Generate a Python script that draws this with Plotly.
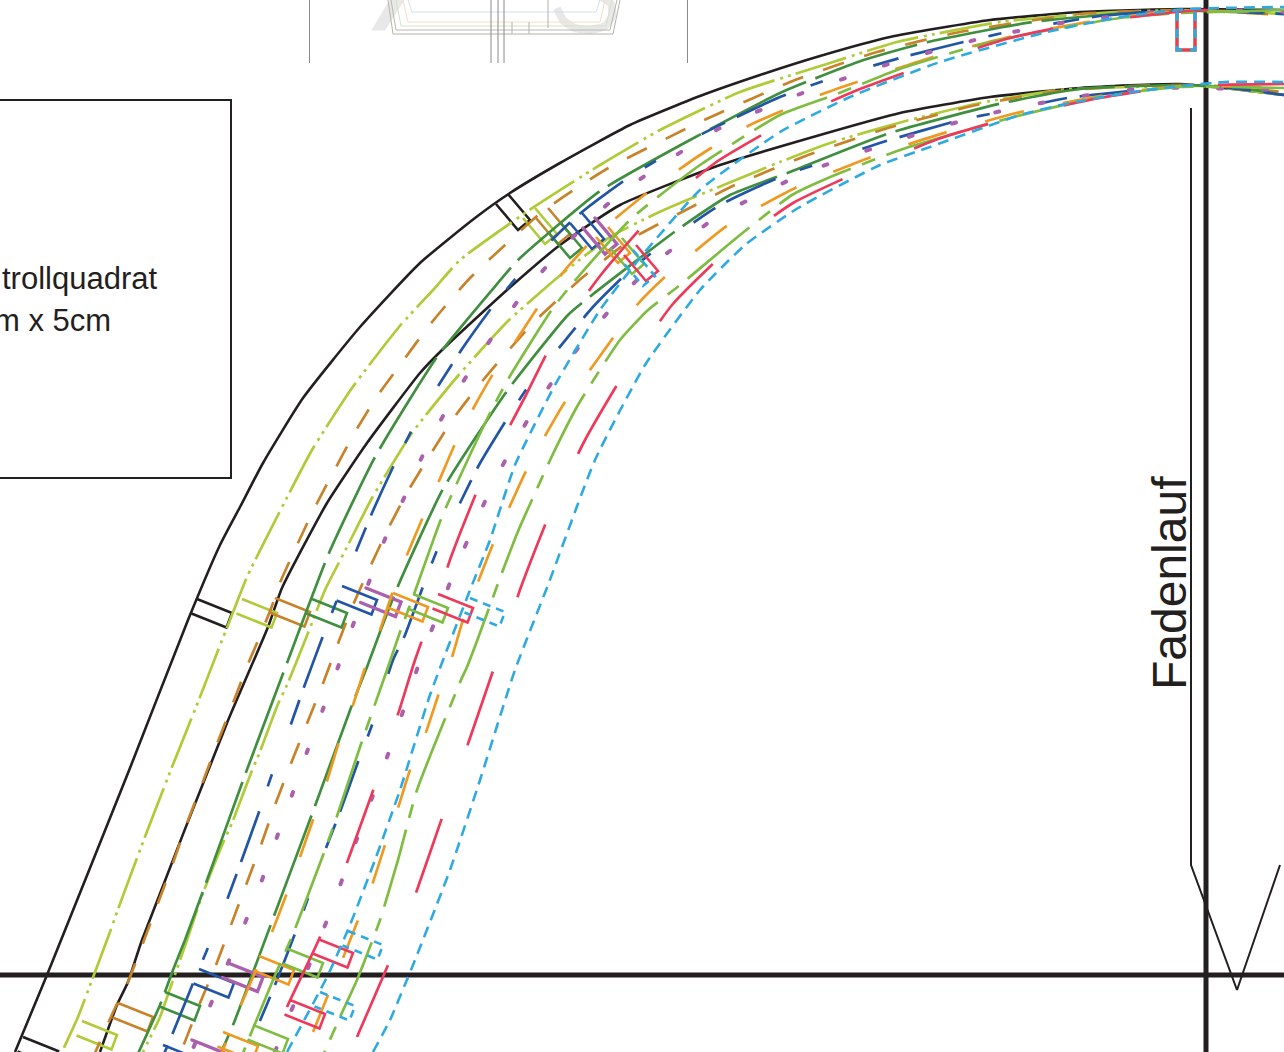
import plotly.graph_objects as go

BLACK = "#231f20"; LIME = "#afcb37"; OCHRE = "#c8832a"; GREEN = "#3f8f3f"; BLUE = "#2355a5"
PURPLE = "#ab60ad"; ORANGE = "#ee9a22"; LEAF = "#7fbd42"; RED = "#ee3a5a"; SKY = "#2eaae1"

# ---- outer seam-line set
O_BLACK = [(15,1052),(47,975),(130,768),(188,620),(220,545),(240,507),(263,463),(303,398),(360,327),(420,263),(475,218),(510,193),(560,163),(630,125),(700,96),(760,75),(820,56),(890,37),(990,20),(1080,12),(1180,9),(1284,10)]
O_LIME = [(33,1116),(62,1052),(78,1017),(92,980),(110,932),(117,912),(143,842),(170,772),(198,702),(217,653),(230,620),(247,577),(278,515),(312,450),(352,388),(399,327),(433,290),(460,260),(528,211),(600,165),(660,130),(740,92),(830,63),(897,42),(1000,22),(1100,13),(1180,10),(1284,14)]
O_OCHRE = [(91,1062),(115,1008),(128,982),(143,943),(158,903),(173,863),(187,823),(202,784),(217,744),(233,703),(248,664),(257,643),(272,606),(279,585),(297,545),(315,507),(335,469),(355,432),(378,395),(403,361),(428,327),(442,310),(470,278),(542,212),(605,170),(700,122),(795,80),(877,52),(960,32),(1080,14),(1180,10),(1284,15)]
O_GREEN = [(117,1099),(160,1005),(173,970),(185,940),(206,883),(245,775),(287,663),(329,553),(375,457),(437,357),(492,290),(518,260),(600,191),(690,140),(780,93),(858,62),(928,42),(1033,22),(1130,13),(1200,11),(1284,14)]
O_BLUE = [(100,1204),(172,1035),(196,976),(207,950),(227,900),(241,862),(259,812),(272,774),(291,724),(304,687),(323,636),(340,592),(357,549),(372,513),(394,465),(413,428),(440,383),(462,349),(493,306),(530,262),(577,216),(628,178),(700,135),(780,97),(832,78),(907,56),(972,40),(1012,31),(1100,16),(1180,10),(1284,14)]
O_PURPLE = [(177,1089),(210,1006),(228,963),(245,923),(262,880),(277,837),(292,795),(307,752),(323,709),(338,667),(353,625),(369,582),(385,539),(404,498),(422,457),(443,416),(466,377),(491,339),(517,302),(546,267),(577,233),(609,203),(646,175),(720,128),(805,92),(892,63),(979,39),(1068,22),(1180,10),(1284,12)]
O_ORANGE = [(211,1080),(241,1005),(256,970),(272,932),(287,893),(300,857),(314,817),(327,781),(339,742),(353,705),(365,668),(380,630),(393,591),(407,555),(423,517),(439,481),(455,444),(473,409),(493,374),(515,342),(538,307),(565,270),(601,231),(648,192),(700,155),(750,125),(820,95),(860,81),(936,56),(1013,36),(1100,20),(1180,11),(1284,12)]
O_LEAF = [(205,1146),(273,980),(293,934),(322,858),(335,822),(360,747),(387,670),(400,632),(413,597),(441,519),(457,483),(491,411),(510,376),(553,308),(578,277),(632,218),(700,165),(780,115),(837,94),(897,70),(975,46),(1033,33),(1120,18),(1180,13),(1284,10)]
O_RED = [(227,1151),(287,1007),(320,937),(348,860),(375,785),(400,708),(415,660),(440,590),(451,557),(481,482),(526,395),(553,342),(600,276),(653,215),(715,163),(780,125),(855,91),(932,63),(1010,38),(1077,24),(1150,15),(1200,10),(1284,14)]
O_SKY = [(287,1052),(328,975),(350,925),(375,860),(400,790),(430,695),(470,590),(490,540),(515,465),(555,385),(600,310),(640,258),(700,190),(780,132),(850,97),(940,62),(1047,32),(1120,17),(1190,9),(1284,7)]

# ---- inner seam-line set
I_BLACK = [(100,1052),(117,1005),(128,982),(142,940),(227,723),(268,627),(282,588),(327,503),(367,443),(420,373),(442,350),(507,290),(560,245),(620,205),(720,165),(820,135),(900,113),(990,97),(1080,88),(1180,84),(1284,95)]
I_LIME = [(120,1097),(143,1052),(160,1017),(172,983),(187,940),(203,893),(223,843),(232,823),(251,773),(259,754),(278,704),(287,685),(308,633),(325,590),(347,547),(372,498),(412,433),(457,377),(507,322),(543,290),(563,273),(610,237),(653,215),(680,203),(780,162),(830,143),(902,122),(980,103),(1060,90),(1130,87),(1200,86),(1284,95)]
I_OCHRE = [(166,1084),(184,1044),(200,1003),(216,965),(231,925),(246,885),(261,845),(275,805),(290,766),(306,726),(322,686),(337,646),(353,605),(370,567),(388,529),(408,491),(430,455),(453,419),(479,385),(507,352),(535,321),(552,305),(583,277),(633,238),(680,213),(735,185),(808,155),(888,128),(972,106),(1050,92),(1130,86),(1200,85),(1284,92)]
I_GREEN = [(185,1132),(233,1025),(274,916),(315,806),(352,705),(367,667),(380,632),(398,586),(443,489),(507,391),(568,315),(592,295),(677,230),(730,195),(790,172),(890,133),(1003,103),(1080,89),(1180,85),(1240,88),(1284,95)]
I_BLUE = [(200,1154),(259,1023),(275,985),(299,923),(326,848),(340,812),(358,762),(372,725),(393,660),(405,635),(428,573),(438,548),(461,501),(479,465),(507,419),(528,387),(592,308),(625,275),(655,250),(720,205),(780,177),(820,163),(883,142),(960,120),(1000,112),(1067,98),(1140,90),(1200,85),(1284,95)]
I_PURPLE = [(275,1052),(282,1033),(299,992),(315,950),(332,908),(347,866),(395,735),(423,652),(440,609),(456,567),(474,526),(493,484),(514,444),(536,406),(562,368),(620,298),(652,265),(720,215),(807,172),(892,142),(979,116),(1068,98),(1150,88),(1284,90)]
I_ORANGE = [(283,1106),(313,1032),(328,995),(343,958),(358,920),(372,885),(385,845),(398,808),(410,770),(425,735),(440,690),(452,657),(463,620),(478,582),(493,544),(509,508),(526,471),(545,436),(565,402),(590,370),(637,305),(665,277),(728,225),(797,187),(871,157),(947,132),(1025,111),(1100,96),(1180,86),(1284,88)]
I_LEAF = [(293,1124),(340,1017),(357,980),(380,920),(398,860),(417,790),(461,680),(467,667),(477,641),(503,570),(519,529),(552,456),(578,405),(620,340),(648,310),(680,285),(740,235),(792,195),(828,178),(903,149),(1010,118),(1100,97),(1180,87),(1284,88)]
I_RED = [(297,1181),(357,1037),(388,965),(417,890),(443,815),(470,738),(495,665),(521,587),(550,513),(585,440),(625,372),(672,305),(728,250),(793,203),(865,169),(938,139),(1013,117),(1100,98),(1180,86),(1284,84)]
I_SKY = [(373,1052),(390,1020),(413,965),(450,870),(480,780),(515,670),(548,585),(595,460),(645,365),(700,290),(745,245),(798,208),(880,165),(930,147),(1020,115),(1070,103),(1140,91),(1224,82),(1284,82)]

# ---- control-mark corners (start of the mark on each curve)
ROW_A = {BLACK:(197,599),LIME:(242,599),OCHRE:(275,598),GREEN:(312,599),BLUE:(342,586),PURPLE:(366,588),ORANGE:(393,593),LEAF:(413,594),RED:(438,594),SKY:(470,598)}
ROW_B = {LIME:(82,1021),OCHRE:(118,1003),GREEN:(165,992),BLUE:(199,969),PURPLE:(228,963),ORANGE:(259,956),LEAF:(288,949),RED:(318,939),SKY:(348,931)}
ROW_C = {BLACK:(23,1037),BLUE:(163,1045),PURPLE:(192,1040),ORANGE:(223,1032),LEAF:(253,1025),RED:(290,1000),SKY:(320,992)}
ROW_D = {BLACK:(508,194),LIME:(535,208),OCHRE:(548,208),GREEN:(560,222),BLUE:(582,213),PURPLE:(595,218),ORANGE:(608,227),LEAF:(622,238),RED:(636,245),SKY:(633,250)}
SIDE_AC = ((35,14),(-5.5,14.5))
SIDE_D = ((22,26),(-12,10))
TOP_MARK_X = [1177,1177,1195,1195]
TOP_MARK_Y = [12,50,50,12]
TOP_MARK_COLORS = [LEAF,ORANGE,RED]

# ---- line work
BOX_X = [0,231,231,0]
BOX_Y = [100,100,478,478]
RULE_H_X = [0,1284]; RULE_H_Y = [975,975]
RULE_V_X = [1206,1206]; RULE_V_Y = [0,1052]
GRAIN_X = [1191,1191,1237,1280]
GRAIN_Y = [108,865,990,865]
PAGE_LINES_X = [309.5,491,498,504,687.5]
PAGE_LINE_TOP = 0; PAGE_LINE_BOTTOM = 63
THUMB_OUTLINES = [
    ([388,393,613,620],[0,34,34,0],"#b4b4a8"),
    ([391,396,610,617],[0,30,30,0],"#b8b8b0"),
    ([396,401,606,612],[0,26,26,0],"#d5e2c8"),
    ([403,408,600,605],[0,22,22,0],"#f3dfc4"),
    ([408,412,596,600],[0,12,12,0],"#d4deea"),
]
THUMB_TICKS_X = [512,529,548]
THUMB_TICKS_TOP = [22,22,0]
THUMB_TICKS_BOTTOM = [34,34,28]
MARK_SHADE_X = [372,385,404,390]; MARK_SHADE_Y = [30,30,0,0]
RING_X = [557,563,575,590,605,612,611,600]
RING_Y = [8,20,28,30,26,16,4,-4]

STYLES = [
    (BLACK, None, 2.6),
    (LIME, "53px,6px,3px,5px,3px,5px", 2.7),
    (OCHRE, "22px,21px", 2.7),
    (GREEN, "107px,10px", 2.7),
    (BLUE, "54px,26px,13px,53px,26px,13px", 2.7),
    (PURPLE, "4px,41px", 4),
    (ORANGE, "40px,40px", 2.7),
    (LEAF, "80px,12px,14px,12px", 2.7),
    (RED, "78px,78px", 2.7),
    (SKY, "11px,7px", 2.6),
]
OUTER = [O_BLACK,O_LIME,O_OCHRE,O_GREEN,O_BLUE,O_PURPLE,O_ORANGE,O_LEAF,O_RED,O_SKY]
INNER = [I_BLACK,I_LIME,I_OCHRE,I_GREEN,I_BLUE,I_PURPLE,I_ORANGE,I_LEAF,I_RED,I_SKY]

fig = go.Figure()

def add(xs, ys, color, width=2.6, dash=None, shape="linear", fill=None, fillcolor=None):
    fig.add_trace(go.Scatter(x=xs, y=ys, mode="lines", hoverinfo="skip", showlegend=False,
        fill=fill, fillcolor=fillcolor,
        line=dict(color=color, width=width, dash=dash, shape=shape, smoothing=0.5)))

# page thumbnail at top
add(MARK_SHADE_X + MARK_SHADE_X[:1], MARK_SHADE_Y + MARK_SHADE_Y[:1], "#e8e8e8", 1, fill="toself", fillcolor="#e8e8e8")
add(RING_X, RING_Y, "#e8e8e8", 8, shape="spline")
for xs, ys, c in THUMB_OUTLINES:
    add(xs, ys, c, 1)
for x, t, b in zip(THUMB_TICKS_X, THUMB_TICKS_TOP, THUMB_TICKS_BOTTOM):
    add([x, x], [t, b], "#b4b4a8", 1)
for x in PAGE_LINES_X:
    add([x, x], [PAGE_LINE_TOP, PAGE_LINE_BOTTOM], "#8a8a8a", 1)

# box, rules, grain line
add(BOX_X, BOX_Y, BLACK, 2)
add(RULE_H_X, RULE_H_Y, BLACK, 5)
add(RULE_V_X, RULE_V_Y, BLACK, 5)
add(GRAIN_X, GRAIN_Y, BLACK, 2)

def mark(origin, side, color, dash, width):
    (lx, ly), (sx, sy) = side
    ox, oy = origin
    add([ox, ox+lx, ox+lx+sx, ox+sx], [oy, oy+ly, oy+ly+sy, oy+sy], color, width, dash)

for i, (color, dash, width) in enumerate(STYLES):
    for curve in (OUTER[i], INNER[i]):
        add([p[0] for p in curve], [p[1] for p in curve], color, width, dash, "spline")
    mark_dash = "8px,6px" if color == SKY else None
    w = 3.4 if color == PURPLE else 2.6
    for row in (ROW_A, ROW_B, ROW_C):
        if color in row:
            mark(row[color], SIDE_AC, color, mark_dash, w)
    if color in ROW_D:
        mark(ROW_D[color], SIDE_D, color, mark_dash, w)
    if color in TOP_MARK_COLORS:
        add(TOP_MARK_X, TOP_MARK_Y, color, 3)
add(TOP_MARK_X, TOP_MARK_Y, SKY, 3, "9px,8px")

FONT = "Liberation Sans, Arial, sans-serif"
ann = [
    dict(x=0, y=278, text="trollquadrat", xanchor="left", yanchor="middle", font=dict(size=31, color=BLACK, family=FONT), showarrow=False),
    dict(x=0, y=320, text="m x 5cm", xanchor="left", yanchor="middle", font=dict(size=31, color=BLACK, family=FONT), showarrow=False, xshift=-8),
    dict(x=1169, y=583, text="Fadenlauf", textangle=-90, xanchor="center", yanchor="middle", font=dict(size=48, color=BLACK, family=FONT), showarrow=False),
]

fig.update_layout(
    width=1284, height=1052, margin=dict(l=0, r=0, t=0, b=0),
    paper_bgcolor="white", plot_bgcolor="white", showlegend=False, annotations=ann,
    xaxis=dict(range=[0,1284], visible=False, fixedrange=True),
    yaxis=dict(range=[1052,0], visible=False, fixedrange=True),
)
fig.write_html("out.html", config={"displayModeBar": False},
               post_script="document.body.style.margin='0';document.body.style.overflow='hidden';"
                           "document.querySelectorAll('path.js-line').forEach(function(p){"
                           "if(p.style.stroke==='rgb(171, 96, 173)'){p.style.strokeLinecap='round';}});")
